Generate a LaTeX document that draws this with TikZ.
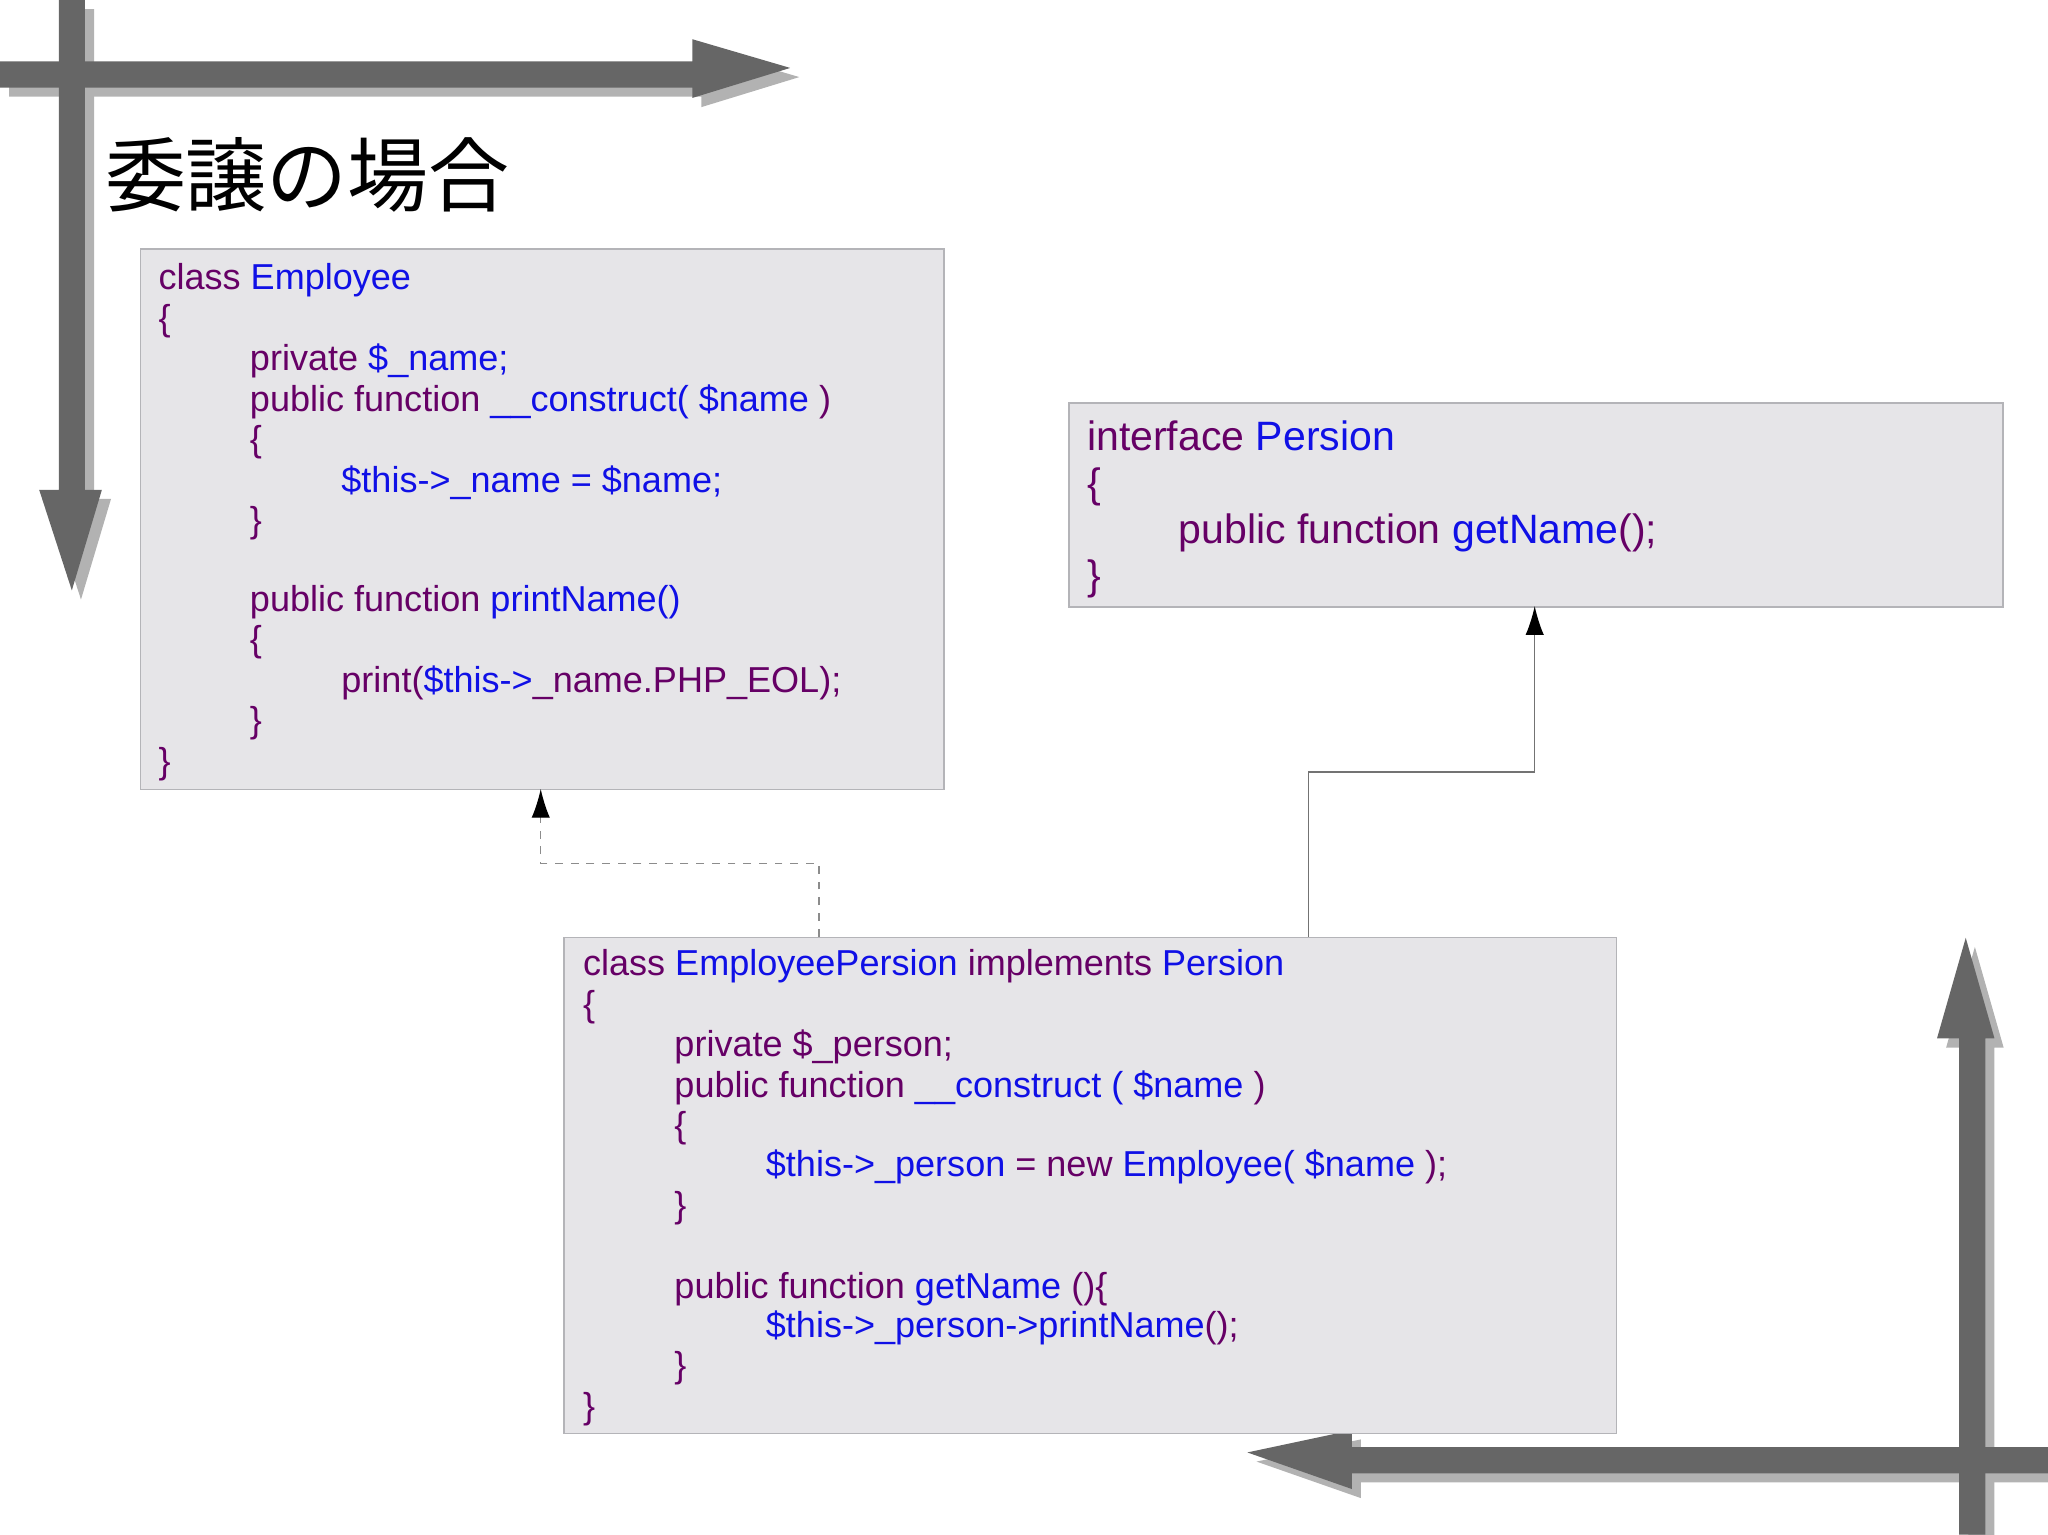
\documentclass[tikz,border=0pt]{standalone}
\usepackage{fontspec}
\setmainfont{Liberation Sans}
\newfontfamily\cjk{Noto Sans CJK JP}
\usetikzlibrary{arrows.meta}
\definecolor{kw}{RGB}{102,0,102}
\definecolor{id}{RGB}{16,16,230}
\definecolor{boxfill}{RGB}{230,229,232}
\definecolor{boxline}{RGB}{180,180,184}
\definecolor{bigA}{RGB}{102,102,102}
\definecolor{bigS}{RGB}{178,178,178}
\newcommand{\K}[1]{\textcolor{kw}{#1}}
\newcommand{\I}[1]{\textcolor{id}{#1}}
\begin{document}
\begin{tikzpicture}[x=0.5pt,y=-0.5pt,
  codebox/.style={draw=boxline,fill=boxfill,line width=0.6pt},
  ln/.style={anchor=base west,inner sep=0,font=\fontsize{13.8pt}{15pt}\selectfont,text=kw},
  lnb/.style={anchor=base west,inner sep=0,font=\fontsize{15.7pt}{17pt}\selectfont,text=kw},
  conn/.style={draw=black!75,line width=0.5pt},
  tip/.style={-{Latex[length=11pt,width=7pt,black]}}]
\useasboundingbox (0,0) rectangle (1568,1175);
% big decorative arrows: shadows
\begin{scope}[shift={(7,7)}]
\fill[bigS] (0,47)--(530,47)--(530,30)--(605,52)--(530,75)--(530,67)--(0,67)--cycle;
\fill[bigS] (45,0)--(65,0)--(65,375)--(78,375)--(55,452)--(30,375)--(45,375)--cycle;
\fill[bigS] (1500,1175)--(1520,1175)--(1520,795)--(1527,795)--(1505,718)--(1483,795)--(1500,795)--cycle;
\fill[bigS] (1568,1108)--(1035,1108)--(1035,1095)--(955,1112)--(1035,1140)--(1035,1128)--(1568,1128)--cycle;
\end{scope}
\fill[bigA] (0,47)--(530,47)--(530,30)--(605,52)--(530,75)--(530,67)--(0,67)--cycle;
\fill[bigA] (45,0)--(65,0)--(65,375)--(78,375)--(55,452)--(30,375)--(45,375)--cycle;
\fill[bigA] (1500,1175)--(1520,1175)--(1520,795)--(1527,795)--(1505,718)--(1483,795)--(1500,795)--cycle;
\fill[bigA] (1568,1108)--(1035,1108)--(1035,1095)--(955,1112)--(1035,1140)--(1035,1128)--(1568,1128)--cycle;
% title
\node[anchor=base west,inner sep=0,font=\cjk\fontsize{31pt}{31pt}\selectfont] (title) at (80,157) {委譲の場合};
% boxes
\node[codebox,anchor=north west,minimum width=307.5pt,minimum height=207pt,inner sep=0] (emp) at (107,190) {};
\node[codebox,anchor=north west,minimum width=357.5pt,minimum height=78pt,inner sep=0] (per) at (818,308) {};
\node[codebox,anchor=north west,minimum width=403pt,minimum height=190pt,inner sep=0] (ep) at (431,717) {};
% Employee text
\node[ln] (e1) at (121,222) {class \I{Employee}};
\node[ln] (e2) at (121,253) {\{};
\node[ln] (e3) at (191,284) {private \I{\$\_name;}};
\node[ln] (e4) at (191,315) {public function \I{\_\_construct( \$name} )};
\node[ln] (e5) at (191,346) {\{};
\node[ln] (e6) at (261,377) {\I{\$this->\_name = \$name;}};
\node[ln] (e7) at (191,408) {\}};
\node[ln] (e8) at (191,468) {public function \I{printName()}};
\node[ln] (e9) at (191,499) {\{};
\node[ln] (e10) at (261,530) {print(\I{\$this->}\_name.PHP\_EOL);};
\node[ln] (e11) at (191,561) {\}};
\node[ln] (e12) at (121,592) {\}};
% Interface text
\node[lnb] (p1) at (832,345) {interface \I{Persion}};
\node[lnb] (p2) at (832,381) {\{};
\node[lnb] (p3) at (902,416) {public function \I{getName}();};
\node[lnb] (p4) at (832,451) {\}};
% EmployeePersion text
\node[ln] (q1) at (446,747) {class \I{EmployeePersion} implements \I{Persion}};
\node[ln] (q2) at (446,778) {\{};
\node[ln] (q3) at (516,809) {private \$\_person;};
\node[ln] (q4) at (516,840) {public function \I{\_\_construct ( \$name} )};
\node[ln] (q5) at (516,871) {\{};
\node[ln] (q6) at (586,901) {\I{\$this->\_person} = new \I{Employee( \$name} );};
\node[ln] (q7) at (516,932) {\}};
\node[ln] (q8) at (516,994) {public function \I{getName} ()\{};
\node[ln] (q9) at (586,1024) {\I{\$this->\_person->printName}();};
\node[ln] (q10) at (516,1055) {\}};
\node[ln] (q11) at (446,1086) {\}};
% connectors
\coordinate (d1) at (627,717);
\coordinate (d2) at (414,604);
\coordinate (s1) at (1002,717);
\coordinate (s2) at (1175,464);
\draw[conn,dashed,draw=black!45,tip] (d1) -- (627,661) -- (414,661) -- (d2);
\draw[conn,draw=black!55,tip] (s1) -- (1002,591) -- (1175,591) -- (s2);
\end{tikzpicture}
\end{document}
